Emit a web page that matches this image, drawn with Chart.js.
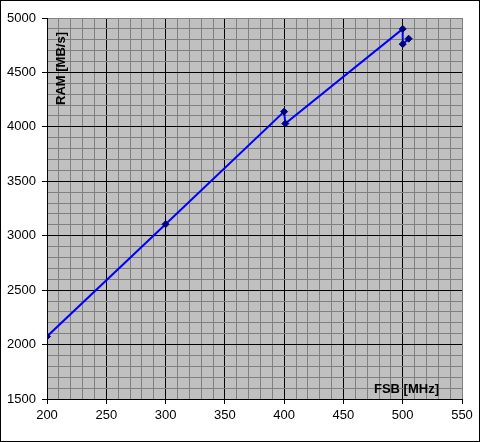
<!DOCTYPE html>
<html>
<head>
<meta charset="utf-8">
<script src="https://cdn.jsdelivr.net/npm/chart.js@4"></script>
<style>
  html, body { margin: 0; padding: 0; background: #fff; }
  #wrap { width: 480px; height: 442px; }
</style>
</head>
<body>
<div id="wrap"><canvas id="ramChart"></canvas></div>
<script>
// FSB vs RAM bandwidth
const fsbMHz = [200, 300, 400, 401, 500, 500, 505];
const ramMBs = [2075, 3105, 4140, 4030, 4900, 4760, 4810];
const xTitle = "FSB [MHz]";
const yTitle = "RAM [MB/s]";

const points = fsbMHz.map((x, i) => ({ x: x, y: ramMBs[i] }));

// white page, outer frame, grey plot area, axis titles inside the plot
const excelLook = {
    id: 'excelLook',
    beforeDraw(chart) {
        const ctx = chart.ctx;
        const a = chart.chartArea;
        ctx.save();
        ctx.fillStyle = '#ffffff';
        ctx.fillRect(0, 0, chart.width, chart.height);
        ctx.fillStyle = '#c0c0c0';
        ctx.fillRect(a.left, a.top, a.right - a.left, a.bottom - a.top);
        ctx.restore();
    },
    afterDraw(chart) {
        const ctx = chart.ctx;
        const a = chart.chartArea;
        ctx.save();
        ctx.strokeStyle = '#000';
        ctx.lineWidth = 1;
        ctx.strokeRect(0.5, 0.5, chart.width - 1, chart.height - 1);
        ctx.fillStyle = '#000';
        ctx.font = 'bold 13px "Liberation Sans", Arial, sans-serif';
        ctx.textAlign = 'right';
        ctx.textBaseline = 'alphabetic';
        ctx.fillText(xTitle, a.right - 23, a.bottom - 6);
        ctx.translate(a.left + 18, a.top + 14);
        ctx.rotate(-Math.PI / 2);
        ctx.textAlign = 'right';
        ctx.fillText(yTitle, 0, 0);
        ctx.restore();
    }
};

const tickFont = { family: '"Liberation Sans", Arial, sans-serif', size: 13 };

new Chart(document.getElementById('ramChart'), {
    type: 'scatter',
    data: {
        datasets: [{
            data: points,
            showLine: true,
            borderColor: '#0000ff',
            borderWidth: 2,
            pointStyle: 'rectRot',
            pointRadius: 3.5,
            pointBackgroundColor: '#000080',
            pointBorderColor: '#000080',
            pointBorderWidth: 1,
            tension: 0
        }]
    },
    options: {
        responsive: true,
        maintainAspectRatio: false,
        animation: false,
        layout: { padding: { top: 18, right: 18, left: 0, bottom: 0 } },
        plugins: {
            legend: { display: false },
            tooltip: { enabled: false }
        },
        scales: {
            x: {
                type: 'linear',
                min: 200,
                max: 550,
                afterFit: (s) => { s.height = 43; },
                ticks: {
                    stepSize: 10,
                    autoSkip: false,
                    maxRotation: 0,
                    color: '#000',
                    font: tickFont,
                    padding: 4,
                    callback: (v) => (v % 50 === 0 ? v : '')
                },
                grid: {
                    lineWidth: 1,
                    drawTicks: true,
                    tickLength: 5,
                    color: (c) => {
                        const v = c.tick ? c.tick.value : 0;
                        if (v === 550) return '#808080';
                        return v % 50 === 0 ? '#000' : '#808080';
                    },
                    tickColor: (c) => (c.tick && c.tick.value % 50 === 0 ? '#000' : 'rgba(0,0,0,0)')
                },
                border: { color: '#000', width: 1 }
            },
            y: {
                type: 'linear',
                min: 1500,
                max: 5000,
                afterFit: (s) => { s.width = 47; },
                ticks: {
                    stepSize: 100,
                    autoSkip: false,
                    color: '#000',
                    font: tickFont,
                    padding: 6,
                    callback: (v) => (v % 500 === 0 ? v : '')
                },
                grid: {
                    lineWidth: 1,
                    drawTicks: true,
                    tickLength: 5,
                    color: (c) => {
                        const v = c.tick ? c.tick.value : 0;
                        if (v === 5000) return '#808080';
                        return v % 500 === 0 ? '#000' : '#808080';
                    },
                    tickColor: (c) => (c.tick && c.tick.value % 500 === 0 ? '#000' : 'rgba(0,0,0,0)')
                },
                border: { color: '#000', width: 1 }
            }
        }
    },
    plugins: [excelLook]
});
</script>
</body>
</html>
